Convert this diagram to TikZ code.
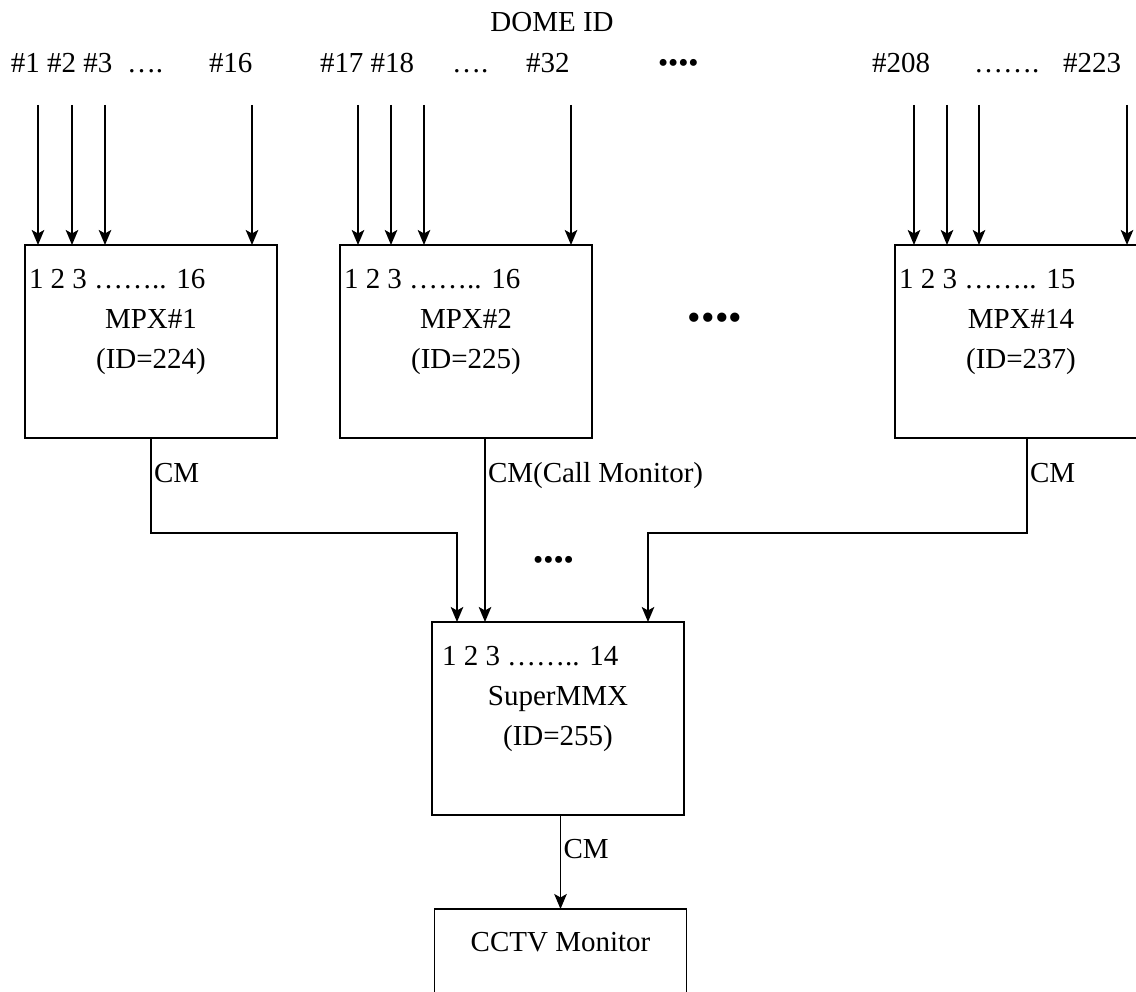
\documentclass[tikz,border=0pt]{standalone}
\usepackage{fontspec}
\setmainfont{Liberation Serif}
\usetikzlibrary{arrows.meta, positioning, calc}

\begin{document}
\begin{tikzpicture}[
    node distance=1.26cm and 1.26cm,
    every node/.style={font=\fontsize{16.5}{19.8}\selectfont, inner sep=0pt, outer sep=0pt},
    mpx/.style={rectangle, draw, line width=1.1pt, minimum width=5.04cm, minimum height=3.86cm},
    feed/.style={-{Stealth[length=0.3cm, width=0.25cm, inset=0.07cm]}, line width=1.1pt},
    tag/.style={anchor=base west},
    ctr/.style={anchor=base}
]
\useasboundingbox (0,0) rectangle (22.72,-19.84);

% Boxes
\node[mpx] (mpxA) at (3.02,-6.83) {};
\node[mpx, right=1.26cm of mpxA] (mpxB) {};
\node[mpx, right=6.06cm of mpxB] (mpxN) {};
\node[mpx, below=3.68cm of mpxB, xshift=1.84cm] (smmx) {};
\node[mpx, below=1.88cm of smmx, xshift=0.05cm, minimum height=2.4cm] (cctv) {};

% Box texts
\node[tag] (portA) at ($(mpxA.north west)+(0.08,-0.88)$) {1 2 3 …….. 16};
\node[ctr] (nameA) at ($(mpxA.north)+(0,-1.68)$) {MPX\#1};
\node[ctr] (idA) at ($(mpxA.north)+(0,-2.46)$) {(ID=224)};
\node[tag] (portB) at ($(mpxB.north west)+(0.08,-0.88)$) {1 2 3 …….. 16};
\node[ctr] (nameB) at ($(mpxB.north)+(0,-1.68)$) {MPX\#2};
\node[ctr] (idB) at ($(mpxB.north)+(0,-2.46)$) {(ID=225)};
\node[tag] (portN) at ($(mpxN.north west)+(0.08,-0.88)$) {1 2 3 …….. 15};
\node[ctr] (nameN) at ($(mpxN.north)+(0,-1.68)$) {MPX\#14};
\node[ctr] (idN) at ($(mpxN.north)+(0,-2.46)$) {(ID=237)};
\node[tag] (portS) at ($(smmx.north west)+(0.2,-0.86)$) {1 2 3 …….. 14};
\node[ctr] (nameS) at ($(smmx.north)+(0,-1.66)$) {SuperMMX};
\node[ctr] (idS) at ($(smmx.north)+(0,-2.46)$) {(ID=255)};
\node[ctr] (nameC) at ($(cctv.north)+(0,-0.84)$) {CCTV Monitor};

% Dome ids
\node[ctr] (dome) at (11.04,-0.64) {DOME ID};
\node[tag] (idsA) at (0.22,-1.46) {\#1 \#2 \#3};
\node[tag] (gapA) at (2.54,-1.46) {….};
\node[tag] (lastA) at (4.18,-1.46) {\#16};
\node[tag] (idsB) at (6.40,-1.46) {\#17 \#18};
\node[tag] (gapB) at (9.04,-1.46) {….};
\node[tag] (lastB) at (10.52,-1.46) {\#32};
\node[tag] (gapTop) at (13.16,-1.46) {••••};
\node[tag] (idsN) at (17.44,-1.46) {\#208};
\node[tag] (gapN) at (19.48,-1.46) {…….};
\node[tag] (lastN) at (21.26,-1.46) {\#223};

\node[font=\fontsize{22}{26}\selectfont] (gapMid) at (14.30,-6.44) {••••};
\node (gapLow) at (11.07,-11.26) {••••};

% Inputs
\foreach \x [count=\i] in {0.76,1.44,2.10,5.04,7.16,7.82,8.48,11.42,18.28,18.94,19.58,22.54}
  \coordinate (in\i) at (\x,-2.10);
\foreach \i in {1,...,4} \draw[feed] (in\i) -- (in\i |- mpxA.north);
\foreach \i in {5,...,8} \draw[feed] (in\i) -- (in\i |- mpxB.north);
\foreach \i in {9,...,12} \draw[feed] (in\i) -- (in\i |- mpxN.north);

% Call monitor lines
\coordinate (jA) at ($(smmx.north west)+(0.50,0)$);
\coordinate (jB) at ($(smmx.north west)+(1.06,0)$);
\coordinate (jN) at ($(smmx.north west)+(4.32,0)$);
\coordinate (oN) at ($(mpxN.south)+(0.12,0)$);

\draw[feed] (mpxA.south) -- ++(0,-1.9) -| (jA);
\draw[feed] (jB |- mpxB.south) -- (jB);
\draw[feed] (oN) -- ++(0,-1.9) -| (jN);
\draw[feed] (cctv.north |- smmx.south) -- (cctv.north);

\node[tag] (cmA) at ($(mpxA.south)+(0.06,-0.88)$) {CM};
\node[tag] (cmB) at ($(jB |- mpxB.south)+(0.06,-0.88)$) {CM(Call Monitor)};
\node[tag] (cmN) at ($(oN)+(0.06,-0.88)$) {CM};
\node[tag] (cmS) at ($(cctv.north |- smmx.south)+(0.06,-0.86)$) {CM};

\end{tikzpicture}
\end{document}
